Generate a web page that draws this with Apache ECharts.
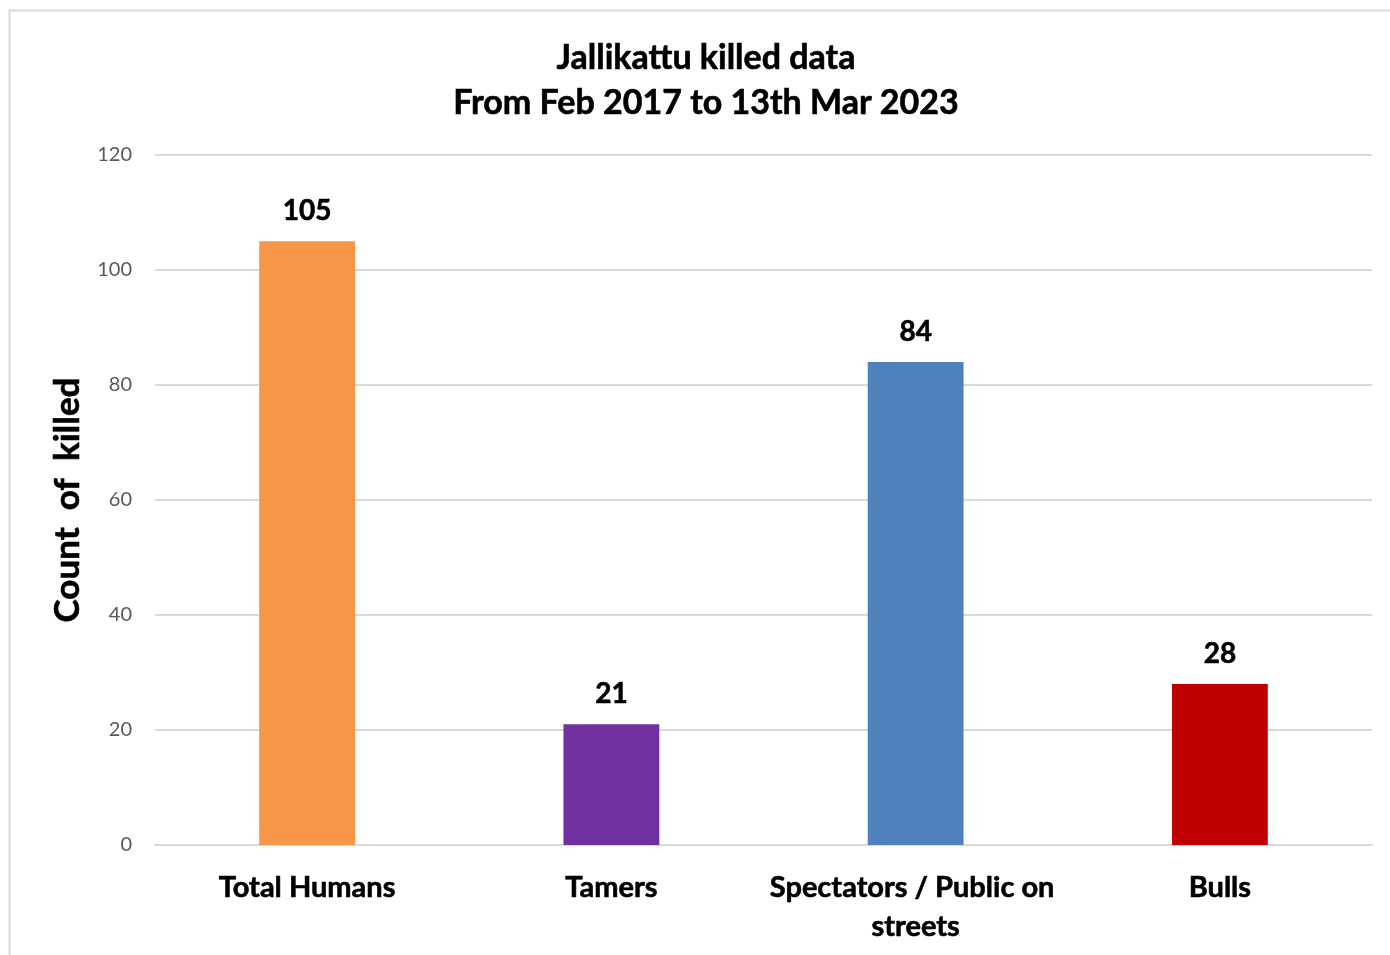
<!DOCTYPE html>
<html>
<head>
<meta charset="utf-8">
<title>Jallikattu killed data</title>
<script src="https://cdn.jsdelivr.net/npm/echarts@6/dist/echarts.min.js"></script>
<style>
  html, body { margin: 0; padding: 0; background: #ffffff; }
  #chart { width: 1390px; height: 955px; }
</style>
</head>
<body>
<div id="chart"></div>
<script>
// Deaths recorded at Jallikattu events, Feb 2017 – 13 Mar 2023
const categories = ['Total Humans', 'Tamers', 'Spectators / Public on streets', 'Bulls'];
const killed = [105, 21, 84, 28];
const barColors = ['#F79646', '#7030A0', '#4F81BD', '#C00000'];
const yTicks = { min: 0, max: 120, interval: 20 };

const FONT = 'Lato, "Open Sans", sans-serif';
// a thin outline gives the bold text a heavier weight
const heavy = { textBorderColor: '#000000', textBorderWidth: 0.6 };

const chart = echarts.init(document.getElementById('chart'), null, { renderer: 'canvas' });

chart.setOption({
  backgroundColor: '#ffffff',
  animation: false,
  graphic: [{
    type: 'rect',
    shape: { x: 9.5, y: 10.5, width: 1420, height: 1000 },
    style: { fill: 'none', stroke: '#d9d9d9', lineWidth: 2 },
    silent: true
  }],
  title: {
    text: 'Jallikattu killed data\nFrom Feb 2017 to 13th Mar 2023',
    left: 701,
    top: 31,
    textAlign: 'center',
    textStyle: Object.assign({
      fontFamily: FONT,
      fontWeight: 'bold',
      fontSize: 34,
      lineHeight: 45,
      color: '#000000'
    }, heavy)
  },
  grid: { left: 155, right: 18, top: 155, bottom: 110, containLabel: false },
  xAxis: {
    type: 'category',
    data: categories,
    axisLine: { show: true, lineStyle: { color: '#d9d9d9', width: 2 } },
    axisTick: { show: false },
    axisLabel: Object.assign({
      interval: 0,
      margin: 23,
      fontFamily: FONT,
      fontWeight: 'bold',
      fontSize: 29,
      lineHeight: 39,
      color: '#000000',
      width: 330,
      overflow: 'break'
    }, heavy)
  },
  yAxis: {
    type: 'value',
    min: yTicks.min,
    max: yTicks.max,
    interval: yTicks.interval,
    name: 'Count  of  killed',
    nameLocation: 'middle',
    nameGap: 70,
    nameTextStyle: Object.assign({
      fontFamily: FONT,
      fontWeight: 'bold',
      fontSize: 35,
      color: '#000000'
    }, heavy),
    axisLine: { show: false },
    axisTick: { show: false },
    axisLabel: {
      margin: 23,
      fontFamily: FONT,
      fontSize: 20,
      color: '#595959'
    },
    splitLine: { lineStyle: { color: '#d9d9d9', width: 2 } }
  },
  series: [{
    type: 'bar',
    data: killed.map((v, i) => ({ value: v, itemStyle: { color: barColors[i] } })),
    barWidth: '31.5%',
    label: Object.assign({
      show: true,
      position: 'top',
      distance: 16,
      fontFamily: FONT,
      fontWeight: 'bold',
      fontSize: 28,
      color: '#000000'
    }, heavy)
  }]
});
</script>
</body>
</html>
